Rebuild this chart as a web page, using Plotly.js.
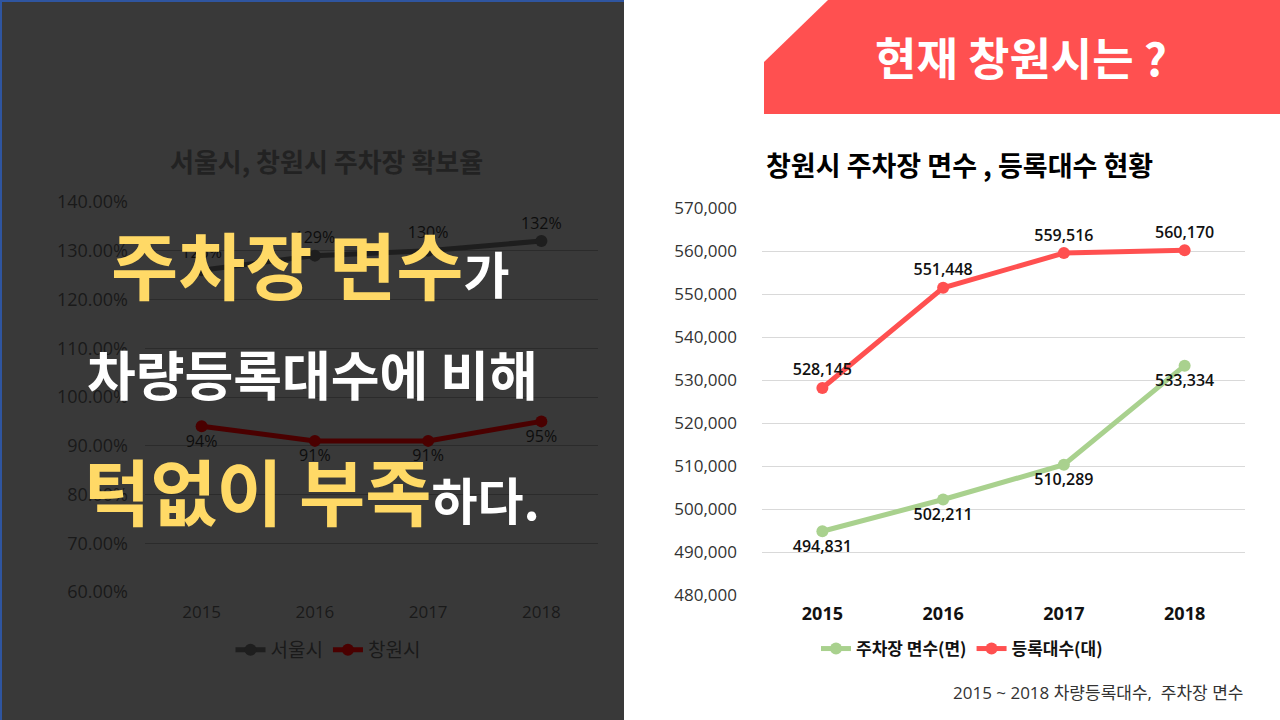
<!DOCTYPE html>
<html>
<head>
<meta charset="utf-8">
<script src="https://cdn.plot.ly/plotly-3.0.1.min.js"></script>
<style>
  html, body { margin: 0; padding: 0; background: #ffffff; }
  #chart { width: 1280px; height: 720px; }
</style>
</head>
<body>
<div id="chart"></div>
<script>
  // years shared by both charts
  const years = ['2015', '2016', '2017', '2018'];

  // left chart: parking supply ratio (%)
  const seoulRatio = [126, 129, 130, 132];
  const changwonRatio = [94, 91, 91, 95];

  // right chart: Changwon parking spaces / registered vehicles
  const parkingSpaces = [494831, 502211, 510289, 533334];
  const registeredCars = [528145, 551448, 559516, 560170];

  const W = 1280, H = 720;
  const FONT = '"Open Sans", "Noto Sans CJK KR", sans-serif';
  const KFONT = '"Noto Sans CJK KR", "Noto Sans", sans-serif';
  const px = (x) => x / W;
  const py = (y) => 1 - y / H;
  const pct = (arr) => arr.map(v => v + '%');

  const seoulTrace = {
    x: years, y: seoulRatio, text: pct(seoulRatio),
    name: '서울시', type: 'scatter', mode: 'lines+markers+text',
    xaxis: 'x', yaxis: 'y', legend: 'legend',
    line: {color: '#1e1e1e', width: 5},
    marker: {color: '#1e1e1e', size: 12},
    texttemplate: '%{text}', textposition: 'top center',
    textfont: {family: FONT, size: 16, color: '#0d0d0d'},
    hoverinfo: 'skip'
  };

  const changwonTrace = {
    x: years, y: changwonRatio, text: pct(changwonRatio),
    name: '창원시', type: 'scatter', mode: 'lines+markers+text',
    xaxis: 'x', yaxis: 'y', legend: 'legend',
    line: {color: '#4a0000', width: 5},
    marker: {color: '#4a0000', size: 12},
    texttemplate: '%{text}', textposition: 'bottom center',
    textfont: {family: FONT, size: 16, color: '#0d0d0d'},
    hoverinfo: 'skip'
  };

  const parkingTrace = {
    x: years, y: parkingSpaces,
    name: '주차장 면수(면)', type: 'scatter', mode: 'lines+markers+text',
    xaxis: 'x2', yaxis: 'y2', legend: 'legend2',
    line: {color: '#a9d18e', width: 5},
    marker: {color: '#a9d18e', size: 12},
    texttemplate: '%{y:,}', textposition: 'bottom center',
    textfont: {family: FONT, size: 16, color: '#111111', weight: 600},
    hoverinfo: 'skip'
  };

  const carsTrace = {
    x: years, y: registeredCars,
    name: '등록대수(대)', type: 'scatter', mode: 'lines+markers+text',
    xaxis: 'x2', yaxis: 'y2', legend: 'legend2',
    line: {color: '#ff5050', width: 5},
    marker: {color: '#ff5050', size: 12},
    texttemplate: '%{y:,}', textposition: 'top center',
    textfont: {family: FONT, size: 16, color: '#111111', weight: 600},
    hoverinfo: 'skip'
  };

  const data = [seoulTrace, changwonTrace, parkingTrace, carsTrace];

  const layout = {
    width: W, height: H,
    margin: {l: 0, r: 0, t: 0, b: 0},
    paper_bgcolor: '#ffffff',
    plot_bgcolor: 'rgba(0,0,0,0)',
    font: {family: FONT},
    showlegend: true,

    xaxis: {
      domain: [px(145), px(598)], anchor: 'y',
      type: 'category', range: [-0.5, 3.5],
      showgrid: false, zeroline: false, showline: false,
      tickfont: {family: FONT, size: 17, color: '#1a1a1a'},
      ticks: '', ticklabelstandoff: 8
    },
    yaxis: {
      domain: [py(592), py(202)], anchor: 'x',
      range: [60, 140], dtick: 10,
      tickformat: '.2f', ticksuffix: '%',
      showgrid: true, gridcolor: '#2b2b2b', gridwidth: 1,
      zeroline: false, showline: false,
      tickfont: {family: FONT, size: 18, color: '#1a1a1a'},
      ticklabelstandoff: 16
    },

    xaxis2: {
      domain: [px(762), px(1245)], anchor: 'y2',
      type: 'category', range: [-0.5, 3.5],
      showgrid: false, zeroline: false, showline: false,
      tickfont: {family: FONT, size: 18, color: '#111111', weight: 'bold'},
      ticks: '', ticklabelstandoff: 6
    },
    yaxis2: {
      domain: [py(595), py(208)], anchor: 'x2',
      range: [480000, 570000], dtick: 10000,
      tickformat: ',',
      showgrid: true, gridcolor: '#d9d9d9', gridwidth: 1,
      zeroline: false, showline: false,
      tickfont: {family: FONT, size: 17, color: '#333333'},
      ticklabelstandoff: 24
    },

    legend: {
      x: px(328), y: py(650), xanchor: 'center', yanchor: 'middle',
      orientation: 'h', bgcolor: 'rgba(0,0,0,0)',
      font: {family: KFONT, size: 19, color: '#1a1a1a'},
      itemwidth: 30
    },
    legend2: {
      x: px(962), y: py(649), xanchor: 'center', yanchor: 'middle',
      orientation: 'h', bgcolor: 'rgba(0,0,0,0)',
      font: {family: KFONT, size: 17, color: '#111111', weight: 'bold'},
      itemwidth: 30
    },

    shapes: [
      // dark left panel
      {type: 'rect', xref: 'paper', yref: 'paper', layer: 'below',
       x0: 0, x1: px(624), y0: 0, y1: 1,
       fillcolor: '#393939', line: {width: 0}},
      {type: 'line', xref: 'paper', yref: 'paper', layer: 'below',
       x0: px(1), x1: px(1), y0: 0, y1: 1,
       line: {color: '#2f55a0', width: 2}},
      {type: 'line', xref: 'paper', yref: 'paper', layer: 'below',
       x0: 0, x1: px(624), y0: py(1), y1: py(1),
       line: {color: '#2f55a0', width: 2}},
      // red banner with cut corner
      {type: 'path', xref: 'paper', yref: 'paper', layer: 'below',
       path: 'M ' + px(764) + ' ' + py(62) + ' L ' + px(828) + ' ' + py(0) +
             ' L ' + px(1280) + ' ' + py(0) + ' L ' + px(1280) + ' ' + py(114) +
             ' L ' + px(764) + ' ' + py(114) + ' Z',
       fillcolor: '#ff5050', line: {width: 0}}
    ],

    annotations: [
      {xref: 'paper', yref: 'paper', x: px(326), y: py(160),
       text: '<b>서울시, 창원시 주차장 확보율</b>', showarrow: false,
       xanchor: 'center', yanchor: 'middle',
       font: {family: KFONT, size: 26, color: '#222222'}},

      {xref: 'paper', yref: 'paper', x: px(310), y: py(262),
       text: '<b><span style="color:#ffd966;font-size:73px">주차장 면수</span>' +
             '<span style="color:#ffffff;font-size:50px">가</span></b>',
       showarrow: false, xanchor: 'center', yanchor: 'middle',
       font: {family: KFONT, size: 73, color: '#ffffff'}},
      {xref: 'paper', yref: 'paper', x: px(312), y: py(373),
       text: '<b>차량등록대수에 비해</b>',
       showarrow: false, xanchor: 'center', yanchor: 'middle',
       font: {family: KFONT, size: 53, color: '#ffffff'}},
      {xref: 'paper', yref: 'paper', x: px(312), y: py(488),
       text: '<b><span style="color:#ffd966;font-size:72px">턱없이 부족</span>' +
             '<span style="color:#ffffff;font-size:50px">하다.</span></b>',
       showarrow: false, xanchor: 'center', yanchor: 'middle',
       font: {family: KFONT, size: 72, color: '#ffffff'}},

      {xref: 'paper', yref: 'paper', x: px(1021), y: py(57),
       text: '<b>현재 창원시는 ?</b>', showarrow: false,
       xanchor: 'center', yanchor: 'middle',
       font: {family: KFONT, size: 45, color: '#ffffff'}},
      {xref: 'paper', yref: 'paper', x: px(764), y: py(165),
       text: '<b>창원시 주차장 면수 , 등록대수 현황</b>', showarrow: false,
       xanchor: 'left', yanchor: 'middle',
       font: {family: KFONT, size: 27, color: '#000000'}},
      {xref: 'paper', yref: 'paper', x: px(1245), y: py(692),
       text: '2015 ~ 2018 차량등록대수,  주차장 면수', showarrow: false,
       xanchor: 'right', yanchor: 'middle',
       font: {family: FONT, size: 17, color: '#333333'}}
    ]
  };

  Plotly.newPlot('chart', data, layout, {staticPlot: true, displayModeBar: false});
</script>
</body>
</html>
